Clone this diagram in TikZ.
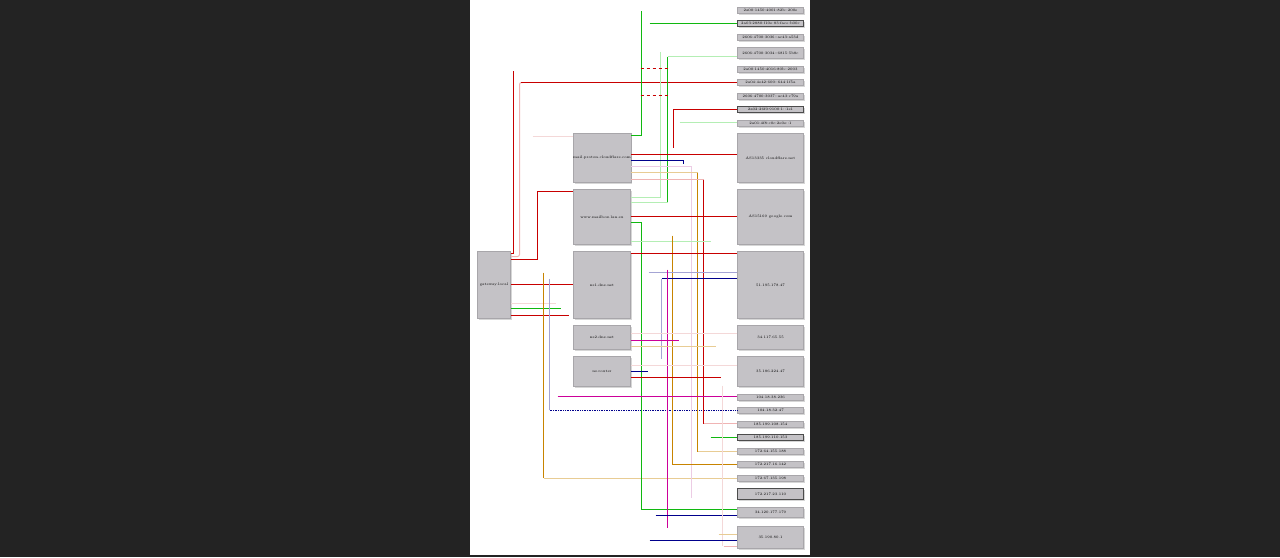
\documentclass[tikz,border=0pt]{standalone}
\usepackage{tikz}
\usetikzlibrary{shadows}
\definecolor{pagebg}{HTML}{232323}
\definecolor{boxgray}{HTML}{C4C2C6}
\definecolor{boxedge}{HTML}{A8A6AA}
\definecolor{shadowgray}{HTML}{D6D6D6}
\definecolor{cred}{HTML}{C80000}
\definecolor{cpink}{HTML}{F0B4B4}
\definecolor{cpale}{HTML}{F4D8D8}
\definecolor{cgreen}{HTML}{10B810}
\definecolor{cmint}{HTML}{B4EEB4}
\definecolor{cnavy}{HTML}{00008C}
\definecolor{clav}{HTML}{A4A4D4}
\definecolor{cmag}{HTML}{CC0099}
\definecolor{corange}{HTML}{C88400}
\definecolor{csand}{HTML}{E8CC94}
\definecolor{clilac}{HTML}{ECCCE4}
\newcommand{\lbl}{\fontsize{3.6}{4}\selectfont}

\begin{document}
\begin{tikzpicture}[x=1pt, y=-1pt,
    box/.style={draw=boxedge, line width=0.5pt, fill=boxgray, inner sep=0pt, font=\lbl,
        drop shadow={shadow xshift=1.5pt, shadow yshift=-1.5pt, fill=shadowgray, opacity=1}},
    hostbox/.style={box, minimum width=57pt},
    addrbox/.style={box, minimum width=66pt},
    link/.style={line width=1pt},
    redline/.style={link, draw=cred},
    pinkline/.style={link, draw=cpink},
    paleline/.style={link, draw=cpale},
    greenline/.style={link, draw=cgreen},
    mintline/.style={link, draw=cmint},
    navyline/.style={link, draw=cnavy},
    lavline/.style={link, draw=clav},
    magline/.style={link, draw=cmag},
    orangeline/.style={link, draw=corange},
    sandline/.style={link, draw=csand},
    lilacline/.style={link, draw=clilac}]

        % page
        \useasboundingbox (0, 0) rectangle (1280, 557);
        \fill[pagebg] (0, 0) rectangle (1280, 557);
        \fill[white] (470, 0) rectangle (810, 555);

    \begin{scope}[shift={(0.5, 0.5)}]
        % hosts
        \node[box, minimum width=33pt, minimum height=67pt] (gw) at (493.5, 284.5) {gateway.local};
        \node[hostbox, minimum height=49pt] (A) at (601.5, 157.5) {mail.proton.cloudflare.com};
        \node[hostbox, minimum height=55pt] (B) at (601.5, 216.5) {www.mailbox.lan.eu};
        \node[hostbox, minimum height=67pt] (C) at (601.5, 284.5) {ns1.dns.net};
        \node[hostbox, minimum height=24pt] (D) at (601.5, 337) {ns2.dns.net};
        \node[hostbox, minimum height=30pt] (E) at (601.5, 371) {ns.router};

        % addresses, top
        \node[addrbox, minimum height=6pt] (T1) at (770, 10) {2a00:1450:4001:82b::200e};
        \node[addrbox, minimum height=6pt, draw=black!70] (T2) at (770, 23) {2a03:2880:f10e:83:face:b00c};
        \node[addrbox, minimum height=6pt] (T3) at (770, 37) {2606:4700:3036::ac43:a53d};
        \node[addrbox, minimum height=11pt] (T4) at (770, 52.5) {2606:4700:3034::6815:5b8c};
        \node[addrbox, minimum height=6pt] (T5) at (770, 69) {2a00:1450:4016:80b::2003};
        \node[addrbox, minimum height=6pt] (T6) at (770, 82) {2a04:4e42:600::644:1f5a};
        \node[addrbox, minimum height=6pt] (T7) at (770, 96) {2606:4700:3037::ac43:c79a};
        \node[addrbox, minimum height=6pt, draw=black!70] (T8) at (770, 109) {2a02:26f0:9100:1::1e1};
        \node[addrbox, minimum height=6pt] (T9) at (770, 122.5) {2a01:4f8:c0c:2e0e::1};

        % addresses, middle
        \node[addrbox, minimum height=49pt] (R1) at (770, 157.5) {AS13335 cloudflare.net};
        \node[addrbox, minimum height=55pt] (R2) at (770, 216.5) {AS15169 google.com};
        \node[addrbox, minimum height=67pt] (R3) at (770, 284.5) {51.195.178.47};
        \node[addrbox, minimum height=24pt] (R4) at (770, 337) {34.117.65.55};
        \node[addrbox, minimum height=30pt] (R5) at (770, 371) {35.186.224.47};

        % addresses, bottom
        \node[addrbox, minimum height=6pt] (B1) at (770, 397) {104.18.38.236};
        \node[addrbox, minimum height=6pt] (B2) at (770, 410) {104.18.32.47};
        \node[addrbox, minimum height=6pt] (B3) at (770, 423.5) {185.199.108.154};
        \node[addrbox, minimum height=6pt, draw=black!70] (B4) at (770, 437) {185.199.110.153};
        \node[addrbox, minimum height=6pt] (B5) at (770, 451) {172.64.155.188};
        \node[addrbox, minimum height=6pt] (B6) at (770, 464) {172.217.16.142};
        \node[addrbox, minimum height=6pt] (B7) at (770, 478) {172.67.135.198};
        \node[addrbox, minimum height=11pt, draw=black!70] (B8) at (770, 493.5) {172.217.23.110};
        \node[addrbox, minimum height=10pt] (B9) at (770, 512) {34.120.177.179};
        \node[addrbox, minimum height=22pt] (B10) at (770, 537) {35.190.80.1};

        % gateway links
        \draw[redline]
        (gw.east |- 0, 253) -| (513, 70);
        \draw[pinkline, rounded corners=2pt]
        (gw.east |- 0, 256) -| (519, 82) -- (522, 82);
        \draw[redline, rounded corners=2pt]
        (520, 82) -- (T6.west);
        \draw[redline]
        (gw.east |- 0, 259) -| (537, 191) -- (B.west |- 0, 191);
        \draw[redline]
        (gw.east |- 0, 284) to (C.west |- 0, 284);
        \draw[paleline]
        (gw.east |- 0, 303) to (555, 303);
        \draw[greenline]
        (gw.east |- 0, 308) to (560, 308);
        \draw[redline]
        (gw.east |- 0, 315) to (568, 315);
        \draw[orangeline]
        (543, 272) to (543, 477);
        \draw[sandline, line width=0.6pt]
        (543, 478) to (B7.west);
        \draw[lavline]
        (549, 278) to (549, 409);
        \draw[navyline, line width=0.7pt, densely dotted]
        (549, 410) to (B2.west);
        \draw[paleline]
        (532, 136) to (A.west |- 0, 136);

        % top links
        \draw[greenline]
        (A.east |- 0, 135) -| (641, 10);
        \draw[greenline]
        (649, 23) to (T2.west);
        \draw[mintline]
        (T4.west |- 0, 56) to (667, 56);
        \draw[greenline]
        (667, 56) to (667, 202);
        \draw[mintline, line width=0.6pt]
        (B.east |- 0, 202) to (667, 202);
        \draw[mintline]
        (B.east |- 0, 197) -| (660, 51);
        \draw[redline, dashed, line width=0.7pt]
        (640, 68) to (668, 68);
        \draw[redline, dashed, line width=0.7pt]
        (640, 95) to (668, 95);
        \draw[redline]
        (T8.west) -| (673, 147);
        \draw[mintline]
        (679, 122) to (T9.west |- 0, 122);

        % links from A and B
        \draw[redline]
        (A.east |- 0, 154) to (R1.west |- 0, 154);
        \draw[navyline]
        (A.east |- 0, 160) -| (683, 163);
        \draw[lilacline]
        (A.east |- 0, 166) -| (691, 497);
        \draw[sandline]
        (A.east |- 0, 172) to (697, 172);
        \draw[orangeline]
        (697, 172) to (697, 451);
        \draw[sandline]
        (697, 451) to (B5.west);
        \draw[pinkline]
        (A.east |- 0, 179) to (703, 179);
        \draw[redline]
        (703, 179) to (703, 423);
        \draw[pinkline]
        (703, 423) to (B3.west |- 0, 423);
        \draw[redline]
        (B.east |- 0, 216) to (R2.west |- 0, 216);
        \draw[greenline]
        (B.east |- 0, 222) -| (641, 509) -- (B9.west |- 0, 509);
        \draw[mintline, line width=0.6pt]
        (B.east |- 0, 241) to (710, 241);
        \draw[orangeline]
        (672, 235) |- (B6.west);

        % links from C, D and E
        \draw[redline]
        (C.east |- 0, 253) to (R3.west |- 0, 253);
        \draw[lavline]
        (648, 272) to (R3.west |- 0, 272);
        \draw[navyline]
        (R3.west |- 0, 278) to (661, 278);
        \draw[lavline]
        (661, 278) to (661, 358);
        \draw[magline]
        (667, 269) to (667, 527);
        \draw[paleline]
        (D.east |- 0, 333) to (R4.west |- 0, 333);
        \draw[magline]
        (D.east |- 0, 340) to (678, 340);
        \draw[sandline]
        (D.east |- 0, 346) to (715, 346);
        \draw[paleline]
        (E.east |- 0, 365) to (R5.west |- 0, 365);
        \draw[navyline]
        (E.east |- 0, 371) to (647, 371);
        \draw[redline]
        (E.east |- 0, 377) to (720, 377);

        % bottom links
        \draw[magline]
        (557, 396) to (B1.west |- 0, 396);
        \draw[greenline]
        (710, 437) to (B4.west);
        \draw[navyline]
        (655, 515) to (B9.west |- 0, 515);
        \draw[paleline]
        (722, 385) to (722, 545);
        \draw[sandline]
        (718, 534) to (B10.west |- 0, 534);
        \draw[navyline]
        (649, 540) to (B10.west |- 0, 540);
        \draw[pinkline]
        (723, 546) to (B10.west |- 0, 546);
    \end{scope}

\end{tikzpicture}
\end{document}
